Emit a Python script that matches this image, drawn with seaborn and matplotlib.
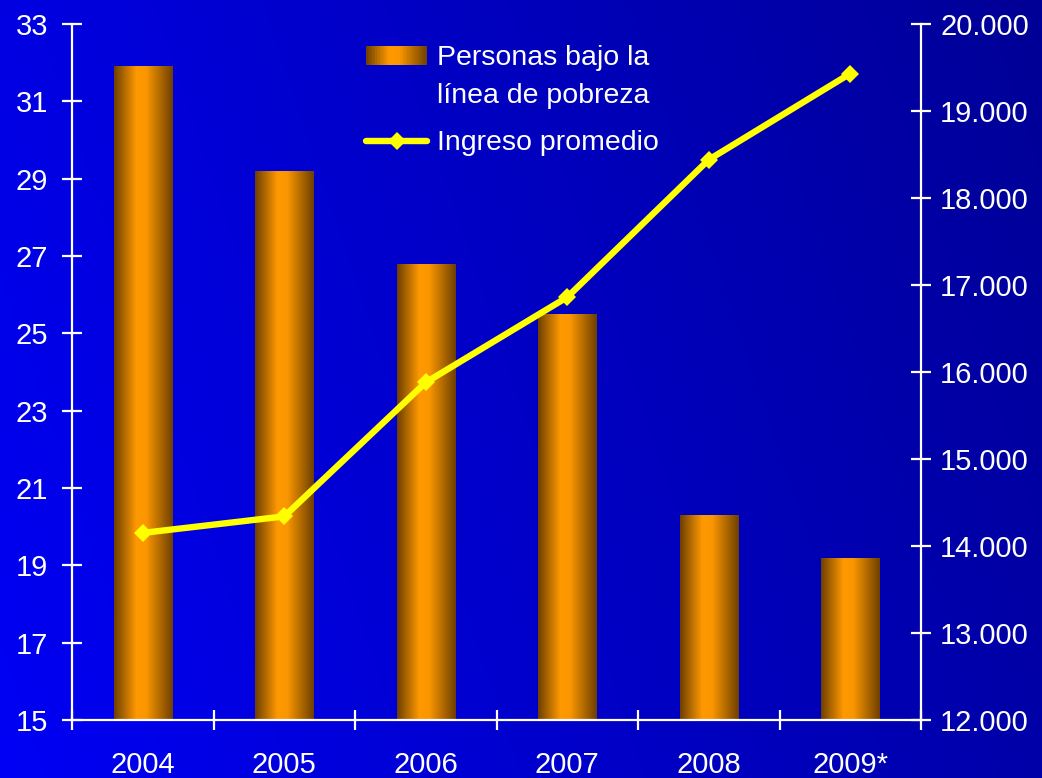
import numpy as np
import pandas as pd
import matplotlib
matplotlib.use('Agg')
import matplotlib.pyplot as plt
import seaborn as sns
from matplotlib.colors import LinearSegmentedColormap
from matplotlib.legend_handler import HandlerBase
from matplotlib.patches import Rectangle
from matplotlib.lines import Line2D

# Datos
anios = ['2004', '2005', '2006', '2007', '2008', '2009*']
personas_pobreza = [31.9, 29.2, 26.8, 25.5, 20.3, 19.2]
ingreso_promedio = [14150, 14340, 15880, 16860, 18440, 19430]

ticks_izq = [15, 17, 19, 21, 23, 25, 27, 29, 31, 33]
ticks_der = [12000, 13000, 14000, 15000, 16000, 17000, 18000, 19000, 20000]
etiquetas_der = ['12.000', '13.000', '14.000', '15.000', '16.000',
                 '17.000', '18.000', '19.000', '20.000']

etiqueta_barras = 'Personas bajo la\nlínea de pobreza'
etiqueta_linea = 'Ingreso promedio'

df = pd.DataFrame({'anio': anios, 'personas': personas_pobreza,
                   'ingreso': ingreso_promedio})

sns.set_theme(style='white')
plt.rcParams['font.family'] = ['Liberation Sans', 'DejaVu Sans']

BLANCO = 'white'
AMARILLO = '#FFFF00'

# Degradado de las barras (bordes oscuros, centro naranja)
cmap_barra = LinearSegmentedColormap.from_list(
    'barra', [(0.0, '#6E4000'), (0.38, '#FF9900'), (0.55, '#FA9600'), (1.0, '#6E4000')])
cmap_fondo = LinearSegmentedColormap.from_list('fondo', ['#0000F5', '#000096'])

fig = plt.figure(figsize=(10.42, 7.78), dpi=100)

# Fondo azul degradado
fondo = fig.add_axes([0, 0, 1, 1], zorder=-10)
xx, yy = np.meshgrid(np.linspace(0, 1, 300), np.linspace(0, 1, 300))
t = 0.8 * xx + 0.2 * yy
fondo.imshow(t, cmap=cmap_fondo, origin='lower', aspect='auto', extent=[0, 1, 0, 1])
fondo.set_axis_off()

ax = fig.add_axes([0.0691, 0.0746, 0.8148, 0.8946])
ax.patch.set_alpha(0)

sns.barplot(data=df, x='anio', y='personas', ax=ax, width=0.41,
            color='#FF9900', saturation=1, edgecolor='none')

grad = np.linspace(0, 1, 200).reshape(1, -1)
for barra in ax.patches:
    x0 = barra.get_x()
    x1 = x0 + barra.get_width()
    y1 = barra.get_height()
    img = ax.imshow(grad, cmap=cmap_barra, aspect='auto',
                    extent=[x0, x1, 15, y1], zorder=barra.get_zorder() + 0.1)
    img.set_clip_path(barra)

ax.set_xlim(-0.5, 5.5)
ax.set_ylim(15, 33)
ax.set_yticks(ticks_izq)
ax.set_yticklabels([str(v) for v in ticks_izq])

# Ticks del eje x en los límites de cada categoría, etiquetas en el centro
ax.set_xticks(np.arange(-0.5, 6, 1))
ax.set_xticklabels([])
ax.set_xticks(np.arange(len(anios)), minor=True)
ax.set_xticklabels(anios, minor=True)
ax.set_xlabel('')
ax.set_ylabel('')

ax.tick_params(axis='x', which='major', direction='inout', length=15, width=1.6,
               color=BLANCO, bottom=True)
ax.tick_params(axis='x', which='minor', length=0, pad=22, labelsize=21,
               labelcolor=BLANCO, bottom=True)
ax.tick_params(axis='y', direction='inout', length=14.4, width=1.6, color=BLANCO,
               labelcolor=BLANCO, labelsize=21, pad=10, left=True)

for lado in ['top', 'right']:
    ax.spines[lado].set_visible(False)
for lado in ['left', 'bottom']:
    ax.spines[lado].set_color(BLANCO)
    ax.spines[lado].set_linewidth(1.6)
ax.grid(False)

# Eje secundario: ingreso promedio
ax2 = ax.twinx()
sns.lineplot(x=np.arange(len(anios)), y=df['ingreso'], ax=ax2, color=AMARILLO,
             linewidth=4.6, marker='D', markersize=9.5, markeredgecolor=AMARILLO,
             markeredgewidth=0, sort=False, legend=False)
ax2.set_ylim(12000, 20000)
ax2.set_yticks(ticks_der)
ax2.set_yticklabels(etiquetas_der)
ax2.set_ylabel('')
ax2.tick_params(axis='y', direction='inout', length=14.4, width=1.6, color=BLANCO,
                labelcolor=BLANCO, labelsize=21, pad=6.5, right=True)
for lado in ['top', 'left', 'bottom']:
    ax2.spines[lado].set_visible(False)
ax2.spines['right'].set_color(BLANCO)
ax2.spines['right'].set_linewidth(1.6)
ax2.grid(False)
ax2.set_xlim(-0.5, 5.5)


class HandlerDegradado(HandlerBase):
    # rectángulo con degradado, alineado con la primera línea del texto
    def __init__(self, desplazamiento=0, **kw):
        super().__init__(**kw)
        self.desplazamiento = desplazamiento

    def create_artists(self, legend, orig_handle, xdescent, ydescent,
                       width, height, fontsize, trans):
        n = 40
        artistas = []
        for i in range(n):
            r = Rectangle((-xdescent + i * width / n, -ydescent + self.desplazamiento),
                          width / n * 1.05, height,
                          facecolor=cmap_barra((i + 0.5) / n), edgecolor='none',
                          transform=trans)
            artistas.append(r)
        return artistas


h_barra = Rectangle((0, 0), 1, 1)
h_linea = Line2D([], [], color=AMARILLO, linewidth=4.6, marker='D', markersize=9.5,
                 markeredgewidth=0)
leg = ax2.legend([h_barra, h_linea], [etiqueta_barras, etiqueta_linea],
                 handler_map={Rectangle: HandlerDegradado(desplazamiento=15.5)},
                 loc='upper left', bbox_to_anchor=(366 / 1042, 1 - 45 / 778),
                 bbox_transform=fig.transFigure, frameon=False, fontsize=20.5,
                 handlelength=2.15, handletextpad=0.35, labelspacing=0.75,
                 handleheight=0.65, borderpad=0, borderaxespad=0)
for txt in leg.get_texts():
    txt.set_color(BLANCO)
    txt.set_linespacing(1.6)

fig.savefig('out.png', dpi=100)
